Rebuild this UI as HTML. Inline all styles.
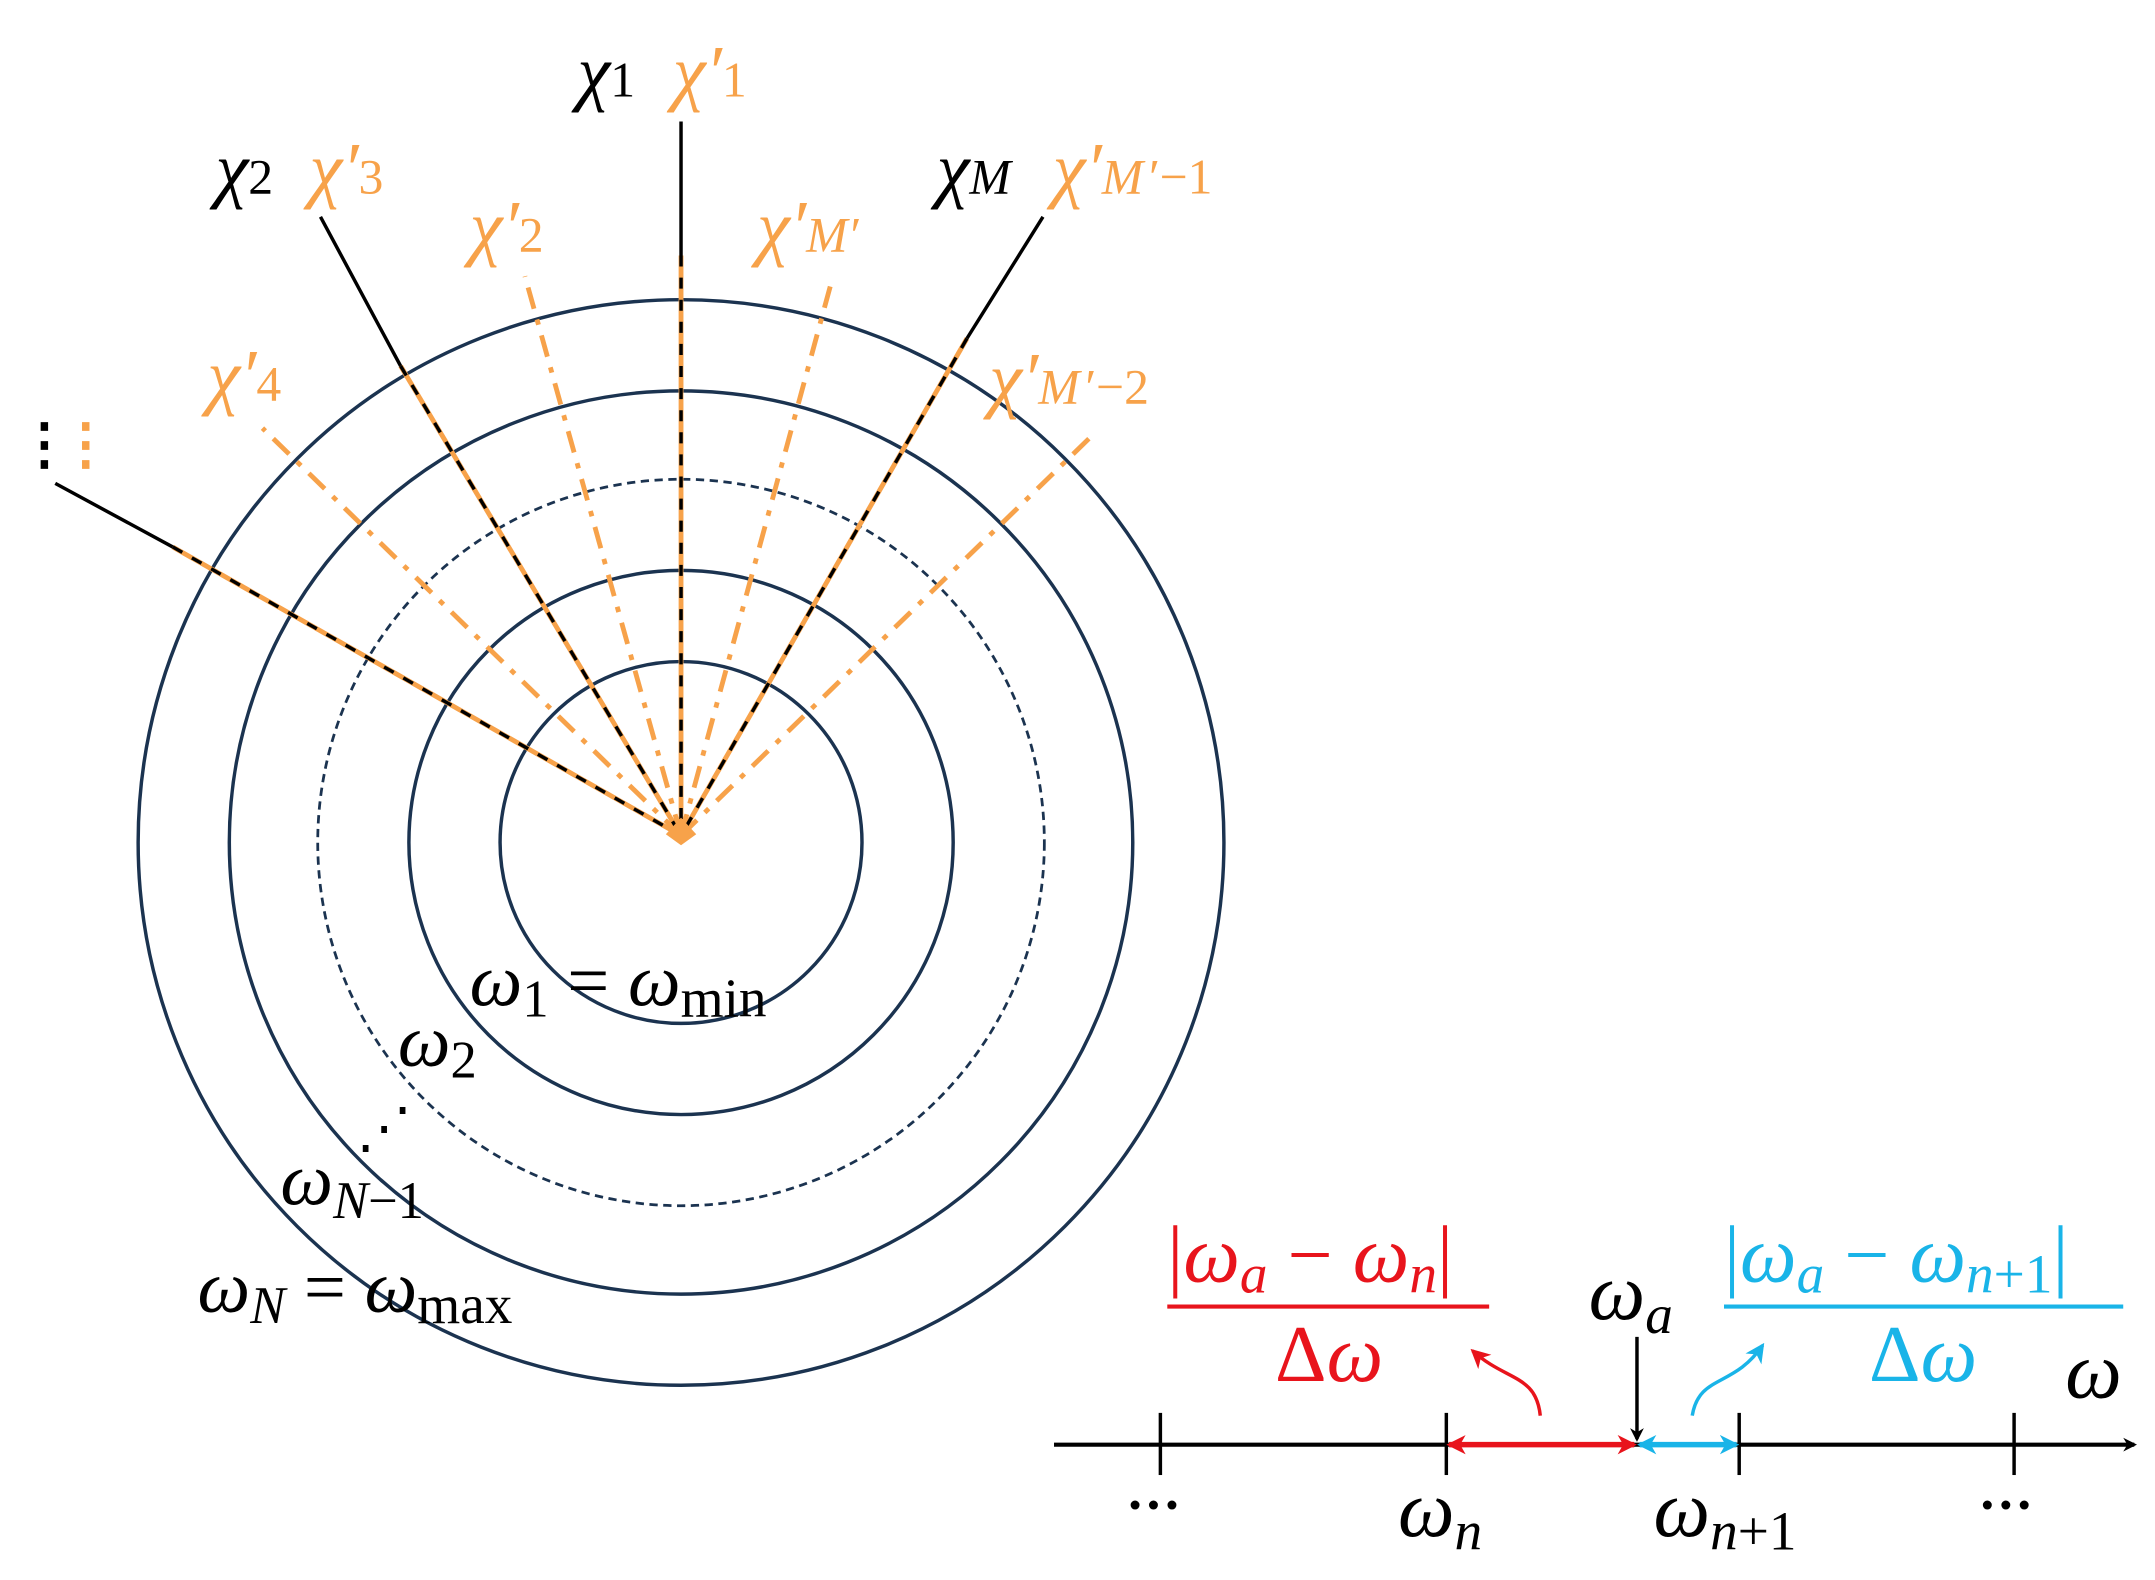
<!DOCTYPE html>
<html><head><meta charset="utf-8"><style>
html,body{margin:0;padding:0;background:#fff;}
svg{display:block;}
text{font-family:"Liberation Serif",serif;}
.m{font-style:italic;}
</style></head><body>
<svg width="2155" height="1580" viewBox="0 0 1560 1144" preserveAspectRatio="none" xmlns="http://www.w3.org/2000/svg">
<defs>
<marker id="ab" markerWidth="10" markerHeight="10" refX="8" refY="5" orient="auto" markerUnits="userSpaceOnUse"><path d="M0,0 L10,5 L0,10 L3,5 z" fill="#000"/></marker>
<marker id="ar" markerWidth="14" markerHeight="14" refX="12" refY="7" orient="auto-start-reverse" markerUnits="userSpaceOnUse"><path d="M0,0 L14,7 L0,14 L4,7 z" fill="#e8141c"/></marker>
<marker id="ac" markerWidth="14" markerHeight="14" refX="12" refY="7" orient="auto-start-reverse" markerUnits="userSpaceOnUse"><path d="M0,0 L14,7 L0,14 L4,7 z" fill="#19b4e8"/></marker>
</defs>
<g fill="none" stroke="#1b3350" stroke-width="2.5">
<circle cx="493" cy="610" r="131"/>
<circle cx="493" cy="610" r="197"/>
<circle cx="493" cy="610" r="263" stroke-width="2" stroke-dasharray="6,4"/>
<circle cx="493" cy="610" r="327"/>
<circle cx="493" cy="610" r="393"/>
</g>
<g stroke="#f7a24a" stroke-width="3.5" stroke-dasharray="16,8,4,8" fill="none">
<line x1="493" y1="605" x2="380" y2="200"/>
<line x1="493" y1="605" x2="603" y2="200"/>
<line x1="493" y1="605" x2="190" y2="310"/>
<line x1="493" y1="605" x2="793" y2="313"/>
</g>
<g stroke="#000" stroke-width="2.5">
<line x1="493" y1="88" x2="493" y2="185"/>
<line x1="232" y1="157" x2="290" y2="265"/>
<line x1="755" y1="157" x2="700" y2="245"/>
<line x1="40" y1="350" x2="125" y2="396"/>
</g>
<g stroke="#f7a24a" stroke-width="3.5">
<line x1="493" y1="185" x2="493" y2="605"/>
<line x1="290" y1="265" x2="493" y2="605"/>
<line x1="700" y1="245" x2="493" y2="605"/>
<line x1="125" y1="396" x2="493" y2="605"/>
</g>
<g stroke="#000" stroke-width="2.5" stroke-dasharray="8,8">
<line x1="493" y1="185" x2="493" y2="605"/>
<line x1="290" y1="265" x2="493" y2="605"/>
<line x1="700" y1="245" x2="493" y2="605"/>
<line x1="125" y1="396" x2="493" y2="605"/>
</g>
<path d="M482,604 L493,592 L504,604 L493,612 z" fill="#f7a24a"/>
<g font-size="40">
<text x="12" y="335" fill="#000" font-weight="bold">⋮</text>
<text x="42" y="335" fill="#f7a24a" font-weight="bold">⋮</text>
</g>
<g font-size="54" class="m">
<text x="418" y="70" fill="#000">χ<tspan font-size="36" font-style="normal">1</tspan></text>
<text x="487" y="70" fill="#f7a24a">χ′<tspan font-size="36" font-style="normal">1</tspan></text>
<text x="156" y="140" fill="#000">χ<tspan font-size="36" font-style="normal">2</tspan></text>
<text x="224" y="140" fill="#f7a24a">χ′<tspan font-size="36" font-style="normal">3</tspan></text>
<text x="340" y="182" fill="#f7a24a">χ′<tspan font-size="36" font-style="normal">2</tspan></text>
<text x="548" y="182" fill="#f7a24a">χ′<tspan font-size="36">M′</tspan></text>
<text x="678" y="140" fill="#000">χ<tspan font-size="36">M</tspan></text>
<text x="762" y="140" fill="#f7a24a">χ′<tspan font-size="36" letter-spacing="2">M′</tspan><tspan font-size="36" font-style="normal">−1</tspan></text>
<text x="150" y="290" fill="#f7a24a">χ′<tspan font-size="36" font-style="normal">4</tspan></text>
<text x="716" y="292" fill="#f7a24a">χ′<tspan font-size="36" letter-spacing="2">M′</tspan><tspan font-size="36" font-style="normal">−2</tspan></text>
</g>
<g font-size="54" fill="#000">
<text x="340" y="728"><tspan class="m">ω</tspan><tspan font-size="38" dy="8">1</tspan><tspan dy="-8"> = </tspan><tspan class="m">ω</tspan><tspan font-size="40" dy="8">min</tspan></text>
<text x="288" y="772"><tspan class="m">ω</tspan><tspan font-size="38" dy="8">2</tspan></text>
<text x="258" y="830" font-size="40">⋰</text>
<text x="203" y="872"><tspan class="m">ω</tspan><tspan font-size="38" dy="10" class="m">N</tspan><tspan font-size="38">−1</tspan></text>
<text x="143" y="950"><tspan class="m">ω</tspan><tspan font-size="38" dy="8" class="m">N</tspan><tspan dy="-8"> = </tspan><tspan class="m">ω</tspan><tspan font-size="40" dy="8">max</tspan></text>
</g>
<line x1="763" y1="1046" x2="1545" y2="1046" stroke="#000" stroke-width="3" marker-end="url(#ab)"/>
<g stroke="#000" stroke-width="2.5">
<line x1="840" y1="1023" x2="840" y2="1068"/>
<line x1="1047" y1="1023" x2="1047" y2="1068"/>
<line x1="1259" y1="1023" x2="1259" y2="1068"/>
<line x1="1458" y1="1023" x2="1458" y2="1068"/>
<line x1="1185" y1="968" x2="1185" y2="1042" marker-end="url(#ab)"/>
</g>
<line x1="1049" y1="1046" x2="1183" y2="1046" stroke="#e8141c" stroke-width="4" marker-start="url(#ar)" marker-end="url(#ar)"/>
<line x1="1187" y1="1046" x2="1257" y2="1046" stroke="#19b4e8" stroke-width="4" marker-start="url(#ac)" marker-end="url(#ac)"/>
<path d="M1115,1025 C1112,995 1090,1000 1066,978" fill="none" stroke="#e8141c" stroke-width="2.5" marker-end="url(#ar)"/>
<path d="M1225,1025 C1230,995 1255,1005 1276,974" fill="none" stroke="#19b4e8" stroke-width="2.5" marker-end="url(#ac)"/>
<g font-size="58">
<text x="845" y="928" fill="#e8141c">|<tspan class="m">ω</tspan><tspan font-size="40" class="m" dy="8">a</tspan><tspan dy="-8"> − </tspan><tspan class="m">ω</tspan><tspan font-size="40" class="m" dy="8">n</tspan><tspan dy="-8">|</tspan></text>
<line x1="845" y1="946" x2="1078" y2="946" stroke="#e8141c" stroke-width="3"/>
<text x="923" y="1000" fill="#e8141c">Δ<tspan class="m">ω</tspan></text>
<text x="1248" y="928" fill="#19b4e8">|<tspan class="m">ω</tspan><tspan font-size="40" class="m" dy="8">a</tspan><tspan dy="-8"> − </tspan><tspan class="m">ω</tspan><tspan font-size="40" dy="8"><tspan class="m">n</tspan>+1</tspan><tspan dy="-8">|</tspan></text>
<line x1="1248" y1="946" x2="1537" y2="946" stroke="#19b4e8" stroke-width="3"/>
<text x="1353" y="1000" fill="#19b4e8">Δ<tspan class="m">ω</tspan></text>
<text x="1150" y="955" fill="#000"><tspan class="m">ω</tspan><tspan font-size="40" class="m" dy="10">a</tspan></text>
<text x="1495" y="1012" fill="#000" class="m">ω</text>
<text x="1012" y="1112" fill="#000"><tspan class="m">ω</tspan><tspan font-size="40" class="m" dy="10">n</tspan></text>
<text x="1197" y="1112" fill="#000"><tspan class="m">ω</tspan><tspan font-size="40" dy="10"><tspan class="m">n</tspan>+1</tspan></text>
<text x="815" y="1103" fill="#000" font-size="40" font-weight="bold">···</text>
<text x="1432" y="1103" fill="#000" font-size="40" font-weight="bold">···</text>
</g>
</svg>
</body></html>
